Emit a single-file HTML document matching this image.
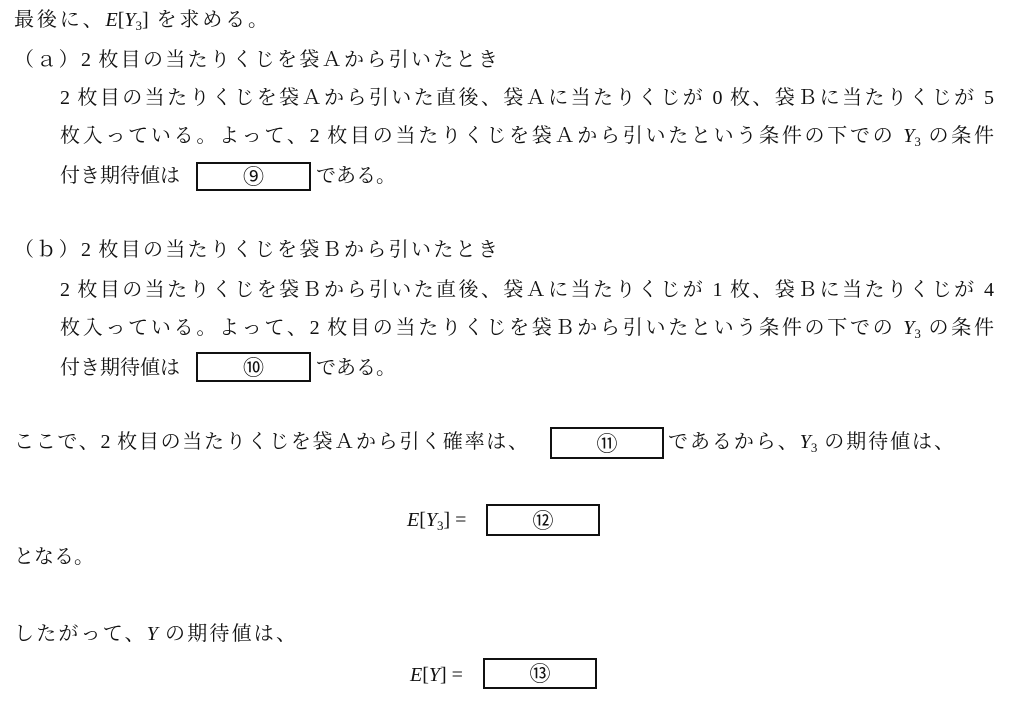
<!DOCTYPE html>
<html><head><meta charset="utf-8"><style>
body{margin:0;width:1010px;height:707px;background:#fff;position:relative;overflow:hidden;
font-family:"Liberation Serif","Noto Serif CJK JP","Noto Serif CJK SC",serif;font-size:20px;color:#111;}
.l{position:absolute;white-space:nowrap;line-height:24px;}
.j{text-align:justify;text-align-last:justify;text-justify:inter-character;white-space:normal;}
i{font-family:"Liberation Serif",serif;font-style:italic;}
sub{font-size:13px;vertical-align:-4px;line-height:0;font-style:normal;}
.b{position:absolute;border:2px solid #111;box-sizing:border-box;text-align:center;font-family:"Noto Sans CJK JP",sans-serif;font-size:21px;}
</style></head><body>
<div class="l j" style="left:14px;top:8px;width:254px">最後に、<i>E</i>[<i>Y</i><sub>3</sub>] を求める。</div>
<div class="l j" style="left:14px;top:48px;width:484px">（ａ）2 枚目の当たりくじを袋Ａから引いたとき</div>
<div class="l j" style="left:60px;top:86px;width:934px">2 枚目の当たりくじを袋Ａから引いた直後、袋Ａに当たりくじが 0 枚、袋Ｂに当たりくじが 5</div>
<div class="l j" style="left:60px;top:124px;width:934px">枚入っている。よって、2 枚目の当たりくじを袋Ａから引いたという条件の下での <i>Y</i><sub>3</sub> の条件</div>
<div class="l" style="left:60px;top:164px">付き期待値は</div>
<div class="b" style="left:196px;top:162px;width:115px;height:29px;line-height:25px">⑨</div>
<div class="l" style="left:316px;top:164px">である。</div>

<div class="l j" style="left:14px;top:238px;width:484px">（ｂ）2 枚目の当たりくじを袋Ｂから引いたとき</div>
<div class="l j" style="left:60px;top:278px;width:934px">2 枚目の当たりくじを袋Ｂから引いた直後、袋Ａに当たりくじが 1 枚、袋Ｂに当たりくじが 4</div>
<div class="l j" style="left:60px;top:316px;width:934px">枚入っている。よって、2 枚目の当たりくじを袋Ｂから引いたという条件の下での <i>Y</i><sub>3</sub> の条件</div>
<div class="l" style="left:60px;top:356px">付き期待値は</div>
<div class="b" style="left:196px;top:352px;width:115px;height:30px;line-height:26px">⑩</div>
<div class="l" style="left:316px;top:356px">である。</div>

<div class="l j" style="left:14px;top:430px;width:514px">ここで、2 枚目の当たりくじを袋Ａから引く確率は、</div>
<div class="b" style="left:550px;top:427px;width:114px;height:32px;line-height:28px">⑪</div>
<div class="l j" style="left:668px;top:430px;width:286px">であるから、<i>Y</i><sub>3</sub> の期待値は、</div>

<div class="l" style="left:407px;top:508px"><i>E</i>[<i>Y</i><sub>3</sub>] =</div>
<div class="b" style="left:486px;top:504px;width:114px;height:32px;line-height:28px">⑫</div>
<div class="l" style="left:14px;top:545px">となる。</div>

<div class="l j" style="left:14px;top:622px;width:282px">したがって、<i>Y</i> の期待値は、</div>
<div class="l" style="left:410px;top:663px"><i>E</i>[<i>Y</i>] =</div>
<div class="b" style="left:483px;top:658px;width:114px;height:31px;line-height:27px">⑬</div>
</body></html>
